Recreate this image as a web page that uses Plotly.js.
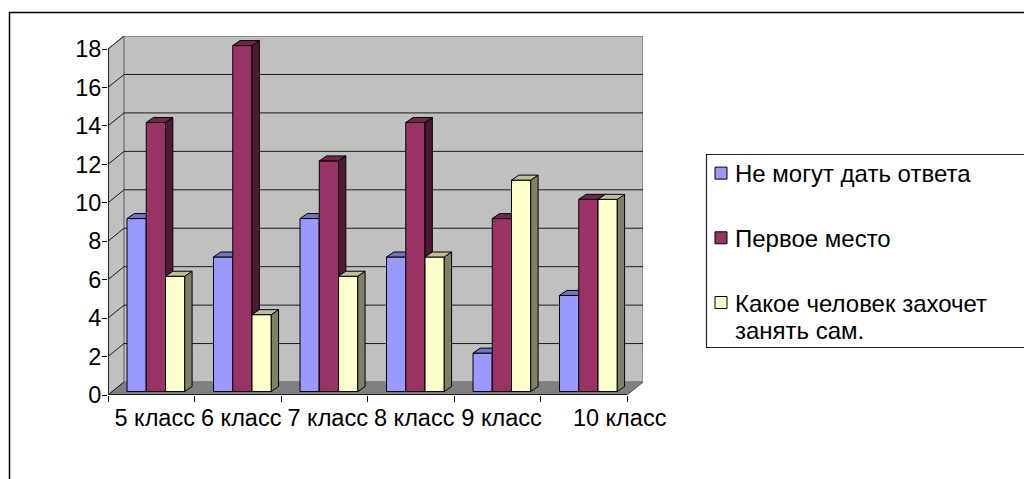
<!DOCTYPE html>
<html><head><meta charset="utf-8">
<script src="https://cdn.plot.ly/plotly-3.0.1.min.js"></script>
<style>html,body{margin:0;padding:0;background:#fff;overflow:hidden}</style>
</head><body><div id="chart" style="width:1024px;height:479px"></div>
<script>
const categories = ['5 класс','6 класс','7 класс','8 класс','9 класс','10 класс'];
const seriesNames = ['Не могут дать ответа','Первое место','Какое человек захочет'];
const legendContinuation = 'занять сам.';
const blueValues = [9,7,9,7,2,5];
const crimsonValues = [14,18,12,14,9,10];
const yellowValues = [6,4,6,7,11,10];
const yTicks = [0,2,4,6,8,10,12,14,16,18];
const labelPositions = [0.54,1.54,2.54,3.54,4.55,5.915];

(function(){
const L=108,R=643,T=36,B=395,W=1024,H=479;
const pxX=86.5, pxY=19.22;
const wallDX=16/pxX, wallDY=13/pxY, nCat=categories.length;
const barW=19.25/pxX, barStart=0.22, barBase=0.18, depthX=7.3/pxX, depthY=5/pxY;
const FONT='"Liberation Sans", Arial, sans-serif', FS=23.5, LFS=24;
const xRange=[0,(R-L)/pxX], yRange=[0,(B-T)/pxY];

const series=[
 {v:blueValues,front:'#9999ff',side:'#4d4d80',top:'#7373bf'},
 {v:crimsonValues,front:'#993366',side:'#4d1a33',top:'#73264d'},
 {v:yellowValues,front:'#ffffcc',side:'#808066',top:'#bfbf99'}
];
const poly=(c,col,lw,lc)=>{return {type:'scatter',mode:'lines',x:c.map(p=>p&&p[0]),y:c.map(p=>p&&p[1]),
  fill:'toself',fillcolor:col,line:{color:lc,width:lw},hoverinfo:'skip',showlegend:false,xaxis:'x',yaxis:'y'};};
const line=(c,col,lw)=>{return {type:'scatter',mode:'lines',x:c.map(p=>p&&p[0]),y:c.map(p=>p&&p[1]),
  line:{color:col,width:lw},hoverinfo:'skip',showlegend:false,xaxis:'x',yaxis:'y',cliponaxis:false};};

const yMax=yTicks[yTicks.length-1];
const traces=[
 poly([[0,0],[wallDX,wallDY],[wallDX,yMax+wallDY],[0,yMax],[0,0]],'#c0c0c0',1,'#808080'),
 poly([[wallDX,wallDY],[nCat+wallDX,wallDY],[nCat+wallDX,yMax+wallDY],[wallDX,yMax+wallDY],[wallDX,wallDY]],'#c0c0c0',2,'#8c8c8c'),
 poly([[0,0],[nCat,0],[nCat+wallDX,wallDY],[wallDX,wallDY],[0,0]],'#808080',1,'#808080')
];
const backGrid=[],sideGrid=[];
yTicks.forEach(t=>{
  if(t>0&&t<yMax){backGrid.push([wallDX,t+wallDY],[nCat+wallDX,t+wallDY],null);}
  sideGrid.push([0,t],[wallDX,t+wallDY],null);
});
traces.push(line(backGrid,'#1a1a1a',1));
traces.push(line(sideGrid,'#1a1a1a',1));
traces.push(line([[nCat,0],[nCat+wallDX,wallDY]],'#404040',0.6));
traces.push(line([[0,yMax],[0,0],[nCat,0]],'#000',1.5));

series.forEach((s,i)=>{
  const ax=i+2, xa='x'+ax, ya='y'+ax;
  const xs=s.v.map((_,c)=>c+barStart+barW*(i+0.5));
  traces.push({type:'bar',x:xs,y:s.v,base:barBase,width:barW,name:seriesNames[i],legendgroup:'g'+i,
    marker:{color:s.front,line:{color:'#000',width:1}},xaxis:xa,yaxis:ya,hoverinfo:'skip',showlegend:true});
  const side=[],cap=[];
  s.v.forEach((v,c)=>{
    const x1=xs[c]+barW/2,x0=xs[c]-barW/2,b=barBase,t=barBase+v;
    side.push([x1,b],[x1+depthX,b+depthY],[x1+depthX,t+depthY],[x1,t],[x1,b],null);
    cap.push([x0,t],[x0+depthX,t+depthY],[x1+depthX,t+depthY],[x1,t],[x0,t],null);
  });
  traces.push(Object.assign(poly(side,s.side,1,'#000'),{xaxis:xa,yaxis:ya}));
  traces.push(Object.assign(poly(cap,s.top,1,'#000'),{xaxis:xa,yaxis:ya}));
});

const px=x=>(x-L)/(R-L), py=y=>(B-y)/(B-T);
const layout={
 width:W,height:H,margin:{l:L,r:W-R,t:T,b:H-B,pad:0},autosize:false,
 paper_bgcolor:'#fff',plot_bgcolor:'rgba(0,0,0,0)',font:{family:FONT,size:FS,color:'#000'},
 showlegend:true,
 legend:{x:px(701),y:py(151),xanchor:'left',yanchor:'top',traceorder:'grouped',tracegroupgap:30.5,indentation:-6,
   bgcolor:'rgba(0,0,0,0)',borderwidth:0,font:{family:FONT,size:LFS,color:'#000'},itemclick:false,itemdoubleclick:false},
 annotations:[{text:legendContinuation,xref:'paper',yref:'paper',x:px(734),y:py(330),xanchor:'left',yanchor:'middle',
   showarrow:false,font:{family:FONT,size:LFS,color:'#000'},borderpad:0}],
 xaxis:{range:xRange,showgrid:false,zeroline:false,showline:false,tickmode:'array',tickvals:labelPositions,ticktext:categories,
   ticks:'',tickangle:0,tickfont:{family:FONT,size:FS},ticklabelstandoff:6,automargin:false,fixedrange:true,
   minor:{tickmode:'array',tickvals:[0,1,2,3,4,5,6],ticks:'outside',ticklen:6,tickwidth:1,tickcolor:'#000',showgrid:false}},
 yaxis:{range:yRange,showgrid:false,zeroline:false,showline:false,tickmode:'array',tickvals:yTicks,ticks:'outside',ticklen:5,
   tickwidth:1,tickcolor:'#000',tickfont:{family:FONT,size:FS},ticklabelstandoff:-4,automargin:false,fixedrange:true},
 shapes:[
  {type:'rect',xref:'paper',yref:'paper',x0:px(9.5),x1:px(1040),y0:py(12.5),y1:py(500),line:{color:'#000',width:1.5},fillcolor:'rgba(0,0,0,0)',layer:'below'},
  {type:'rect',xref:'paper',yref:'paper',x0:px(706.5),x1:px(1040),y0:py(154.5),y1:py(347.5),line:{color:'#222',width:1.2},fillcolor:'rgba(0,0,0,0)',layer:'below'}
 ]
};
[2,3,4].forEach(n=>{
  layout['xaxis'+n]={range:xRange,visible:false,fixedrange:true,overlaying:'x',anchor:'y'+n};
  layout['yaxis'+n]={range:yRange,visible:false,fixedrange:true,overlaying:'y',anchor:'x'+n};
});
Plotly.newPlot('chart',traces,layout,{displayModeBar:false,staticPlot:true}).then(gd=>{
  gd.querySelectorAll('.legend .traces .layers').forEach(g=>g.setAttribute('transform','translate(0,0)'));
});
})();
</script></body></html>
